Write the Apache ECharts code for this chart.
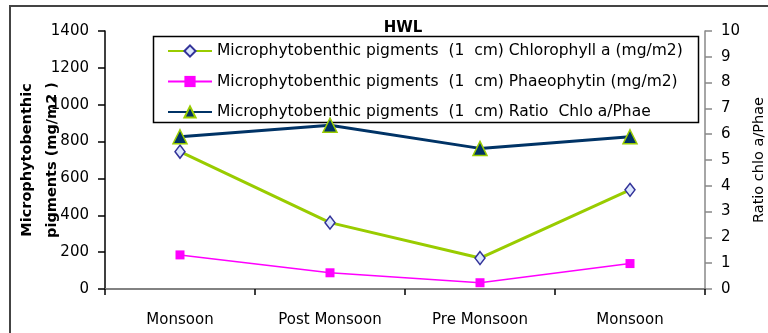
<!DOCTYPE html>
<html>
<head>
<meta charset="utf-8">
<script src="https://cdn.jsdelivr.net/npm/echarts@6/dist/echarts.min.js"></script>
<style>
  html, body { margin: 0; padding: 0; background: #fff; }
  #chart { width: 768px; height: 333px; }
</style>
</head>
<body>
<div id="chart"></div>
<script>
// Seasons along the x axis
const seasons = ['Monsoon', 'Post Monsoon', 'Pre Monsoon', 'Monsoon'];

// Microphytobenthic pigments, top 1 cm of sediment (mg/m2)
const chlorophyll = [745, 360, 168, 538];
const phaeophytin = [185, 88, 34, 138];

// Ratio Chl a / Phaeophytin (right axis)
const ratio = [5.9, 6.35, 5.45, 5.9];

const seriesNames = [
  'Microphytobenthic pigments  (1  cm) Chlorophyll a (mg/m2)',
  'Microphytobenthic pigments  (1  cm) Phaeophytin (mg/m2)',
  'Microphytobenthic pigments  (1  cm) Ratio  Chlo a/Phae'
];

const FONT = 'DejaVu Sans';
const plain = v => String(v);

const chart = echarts.init(document.getElementById('chart'), null, { renderer: 'canvas' });

chart.setOption({
  animation: false,
  backgroundColor: '#fff',
  textStyle: { fontFamily: FONT, color: '#000' },
  title: {
    text: 'HWL',
    left: 398,
    top: 16,
    textAlign: 'center',
    textStyle: { fontFamily: FONT, fontSize: 15, fontWeight: 'bold', color: '#000' }
  },
  grid: { left: 105, right: 63, top: 31, bottom: 44, containLabel: false, outerBoundsMode: 'none' },
  legend: {
    orient: 'vertical',
    left: 167,
    top: 43,
    padding: 0,
    itemWidth: 44,
    itemHeight: 14,
    itemGap: 14.5,
    textStyle: { fontFamily: FONT, fontSize: 15.5, color: '#000', lineHeight: 14 },
    data: seriesNames
  },
  xAxis: [{
    type: 'category',
    data: seasons,
    boundaryGap: true,
    axisLine: { lineStyle: { color: '#000', width: 1.5 } },
    axisTick: { show: true, length: 6, alignWithLabel: false, lineStyle: { color: '#000', width: 1.5 } },
    axisLabel: { margin: 24, fontFamily: FONT, fontSize: 15, color: '#000' }
  }, {
    type: 'category',
    position: 'top',
    data: seasons,
    axisLine: { lineStyle: { color: '#999', width: 1.5 } },
    axisTick: { show: false },
    axisLabel: { show: false }
  }],
  yAxis: [{
    type: 'value',
    min: 0,
    max: 1400,
    interval: 200,
    name: 'Microphytobenthic\npigments (mg/m2 )',
    nameLocation: 'middle',
    nameRotate: 90,
    nameGap: 40,
    nameMoveOverlap: false,
    nameTextStyle: { fontFamily: FONT, fontSize: 14.5, fontWeight: 'bold', color: '#000', lineHeight: 25, align: 'center' },
    axisLine: { show: true, lineStyle: { color: '#000', width: 1.5 } },
    axisTick: { show: true, inside: false, length: 7, lineStyle: { color: '#000', width: 1.5 } },
    axisLabel: { margin: 16, fontFamily: FONT, fontSize: 15, color: '#000', formatter: plain },
    splitLine: { show: false }
  }, {
    type: 'value',
    min: 0,
    max: 10,
    interval: 1,
    position: 'right',
    name: 'Ratio chlo a/Phae',
    nameLocation: 'middle',
    nameRotate: 90,
    nameGap: 47,
    nameMoveOverlap: false,
    nameTextStyle: { fontFamily: FONT, fontSize: 14.5, color: '#000' },
    axisLine: { show: true, lineStyle: { color: '#888', width: 1.5 } },
    axisTick: { show: true, inside: false, length: 7, lineStyle: { color: '#888', width: 1.5 } },
    axisLabel: { margin: 16, fontFamily: FONT, fontSize: 15, color: '#000', formatter: plain },
    splitLine: { show: false }
  }],
  series: [{
    name: seriesNames[0],
    type: 'line',
    data: chlorophyll,
    yAxisIndex: 0,
    symbol: 'diamond',
    symbolSize: [10, 13],
    lineStyle: { color: '#99CC00', width: 3 },
    itemStyle: { color: '#DDE8FF', borderColor: '#333399', borderWidth: 1.5 },
    z: 3
  }, {
    name: seriesNames[1],
    type: 'line',
    data: phaeophytin,
    yAxisIndex: 0,
    symbol: 'rect',
    symbolSize: 9,
    lineStyle: { color: '#FF00FF', width: 1.5 },
    itemStyle: { color: '#FF00FF', borderColor: '#FF00FF', borderWidth: 0 },
    z: 2
  }, {
    name: seriesNames[2],
    type: 'line',
    data: ratio,
    yAxisIndex: 1,
    symbol: 'triangle',
    symbolSize: [14, 14],
    lineStyle: { color: '#003366', width: 3 },
    itemStyle: { color: '#003366', borderColor: '#99CC00', borderWidth: 1.5 },
    z: 4
  }],
  graphic: [{
    // outer frame
    type: 'rect',
    shape: { x: 10, y: 6, width: 800, height: 400 },
    style: { fill: 'none', stroke: '#444', lineWidth: 2 },
    silent: true
  }, {
    // legend frame
    type: 'rect',
    shape: { x: 153.5, y: 36.5, width: 545, height: 86 },
    style: { fill: '#fff', stroke: '#000', lineWidth: 1.5 },
    z: -1,
    zlevel: 0,
    silent: true
  }]
});
</script>
</body>
</html>
